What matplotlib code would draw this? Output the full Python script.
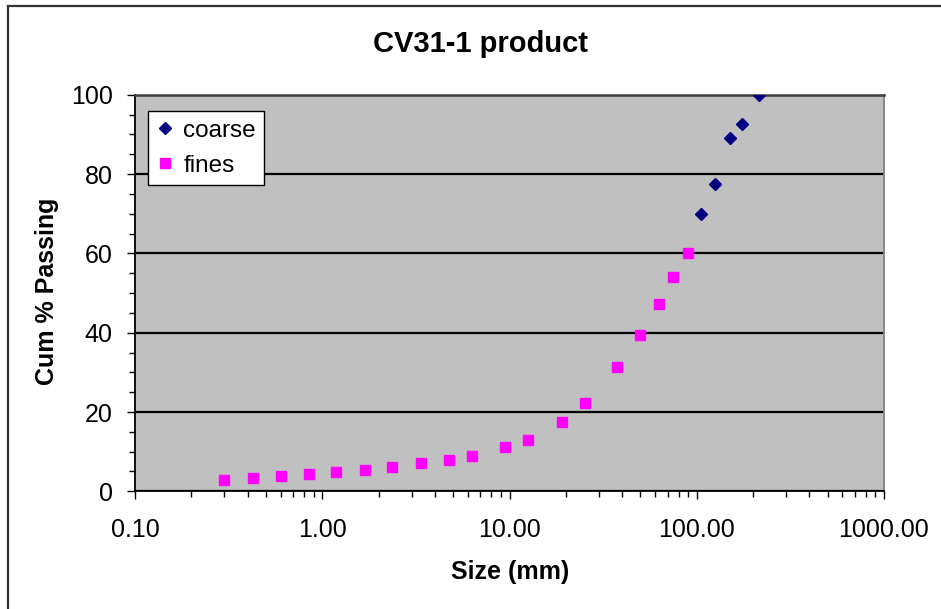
import matplotlib
matplotlib.use("Agg")
import matplotlib.pyplot as plt
from matplotlib.ticker import FixedLocator, FuncFormatter, NullFormatter, MultipleLocator
from matplotlib.lines import Line2D

plt.rcParams['font.family'] = ['Liberation Sans', 'DejaVu Sans']

# Data
fines_size = [0.3, 0.425, 0.6, 0.85, 1.18, 1.7, 2.36, 3.35, 4.75, 6.3, 9.5, 12.5,
              19, 25.4, 37.5, 50, 63, 75, 90]
fines_pass = [2.9, 3.4, 3.8, 4.3, 4.8, 5.3, 6.1, 7.1, 8.0, 8.8, 11.1, 13.0,
              17.5, 22.2, 31.3, 39.5, 47.2, 54.1, 60.0]
coarse_size = [106, 125, 150, 175, 215]
coarse_pass = [69.9, 77.6, 89.0, 92.7, 100.0]

title = "CV31-1 product"
xlabel = "Size (mm)"
ylabel = "Cum % Passing"
xticks = [0.1, 1, 10, 100, 1000]
yticks = [0, 20, 40, 60, 80, 100]

W, H = 941, 609
fig = plt.figure(figsize=(W / 100, H / 100), dpi=100)
fig.patch.set_facecolor('white')

x0, x1 = 135, 884
yt, yb = 94.8, 491.3
ax = fig.add_axes([x0 / W, 1 - yb / H, (x1 - x0) / W, (yb - yt) / H])
ax.set_facecolor('#C0C0C0')

ax.set_xscale('log')
ax.set_xlim(0.1, 1000)
ax.set_ylim(0, 100)

# gridlines
ax.set_yticks(yticks)
ax.yaxis.set_minor_locator(MultipleLocator(5))
ax.grid(axis='y', which='major', color='black', linewidth=1.6, zorder=1)
ax.set_axisbelow(True)

ax.plot(coarse_size, coarse_pass, linestyle='none', marker='D', markersize=6.2,
        color='#000080', markeredgecolor='#000080', label='coarse', zorder=3)
ax.plot(fines_size, fines_pass, linestyle='none', marker='s', markersize=7.7,
        color='#FF00FF', markeredgecolor='#FF00FF', label='fines', zorder=3)

ax.xaxis.set_major_locator(FixedLocator(xticks))
minors = [m * 10.0 ** e for e in range(-1, 3) for m in range(2, 10)]
ax.xaxis.set_minor_locator(FixedLocator(minors))
ax.xaxis.set_major_formatter(FuncFormatter(lambda v, p: f"{v:.2f}"))
ax.xaxis.set_minor_formatter(NullFormatter())

ax.tick_params(axis='both', which='both', direction='out', color='black', width=1.0)
ax.tick_params(axis='x', which='major', length=6, pad=13, labelsize=18)
ax.tick_params(axis='x', which='minor', length=4.5)
ax.tick_params(axis='y', which='major', length=6, pad=10, labelsize=18)
ax.tick_params(axis='y', which='minor', length=4.5)

for s in ['left', 'bottom']:
    ax.spines[s].set_color('black')
    ax.spines[s].set_linewidth(1.3)
ax.spines['top'].set_color('#404040')
ax.spines['top'].set_linewidth(1.8)
ax.spines['right'].set_color('#808080')
ax.spines['right'].set_linewidth(1.3)

fig.text(480.5 / W, 1 - 44 / H, title, ha='center', va='center',
         fontsize=21, fontweight='bold')
fig.text(510 / W, 1 - 572 / H, xlabel, ha='center', va='center',
         fontsize=18, fontweight='bold')
fig.text(47 / W, 1 - 291 / H, ylabel, ha='center', va='center', rotation=90,
         fontsize=18, fontweight='bold')

leg = ax.legend(loc='upper left', bbox_to_anchor=((148 - x0) / (x1 - x0), (yb - 111) / (yb - yt)),
                borderaxespad=0, fontsize=17.5, frameon=True, fancybox=False,
                edgecolor='black', facecolor='white', framealpha=1,
                handlelength=0.7, handletextpad=0.4, borderpad=0.35,
                labelspacing=0.55, numpoints=1)
leg.get_frame().set_linewidth(1.0)

# chart-area border (left and top visible)
fig.add_artist(Line2D([8 / W, 8 / W], [0, 1 - 5.5 / H], color='#333333', linewidth=1.6))
fig.add_artist(Line2D([8 / W, 1], [1 - 5.5 / H, 1 - 5.5 / H], color='#333333', linewidth=1.6))

fig.savefig('out.png', dpi=100)
